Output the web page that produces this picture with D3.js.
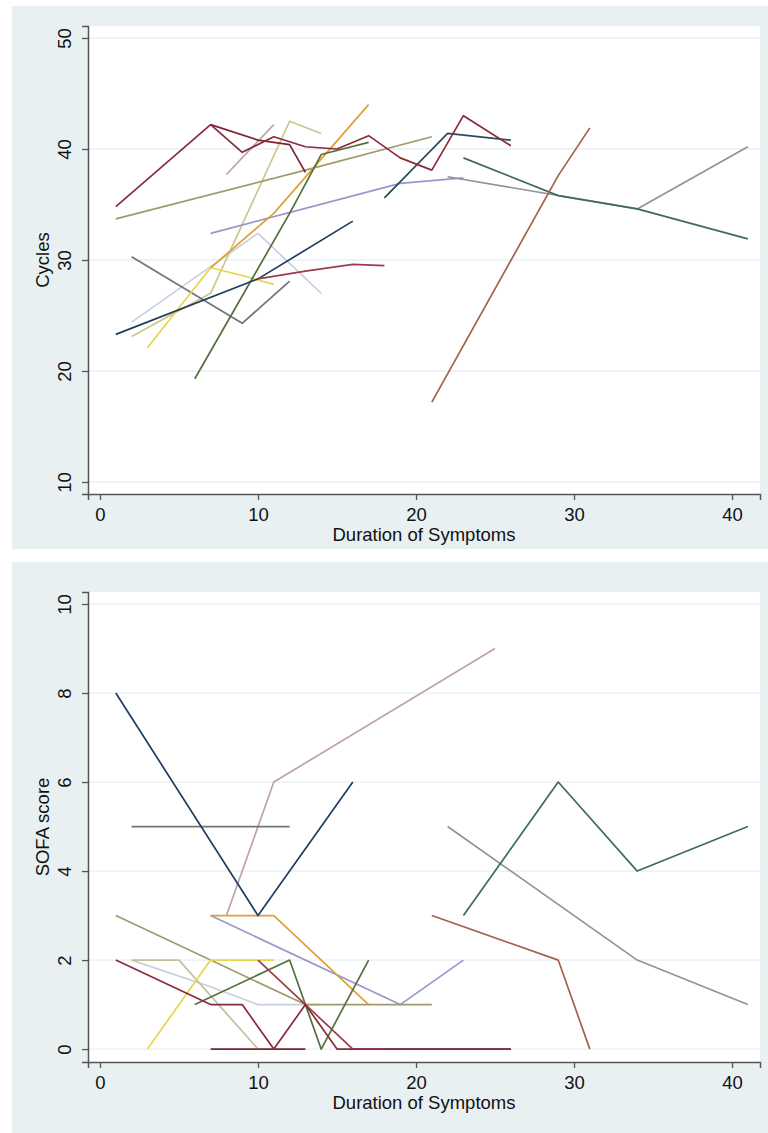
<!DOCTYPE html>
<head>
  <meta charset="utf-8">
  <script src="https://d3js.org/d3.v7.min.js"></script>
  <style>
    body { margin:0; background:#fff; }
    text { font-family: "Liberation Sans", Arial, sans-serif; fill:#111; }
  </style>
</head>
<body>
<script>
  // patient colours (one per trajectory)
  var patientColors = {
    maroonA: "#8a2a3d", maroonB: "#7a2434", maroonC: "#9c3c4c",
    pink: "#bea2ad", olive: "#a09a6b", khaki: "#cdc58e", tan: "#c6bf9c",
    pale: "#c9cfe0", orange: "#dea035", yellow: "#e6d64a", navy: "#1f3d5e",
    gray: "#6b7875", green: "#55703f", lavender: "#9a96cc", navy2: "#2c4a5d",
    teal: "#3f6b5e", gray2: "#8e9497", sienna: "#a3624a"
  };

  var xTicks = [0, 10, 20, 30, 40];
  var cyclesTicks = [10, 20, 30, 40, 50];
  var sofaTicks = [0, 2, 4, 6, 8, 10];

  // Cycles vs duration of symptoms, one list of [day, value] per patient
  var cyclesMaroonA = [[1,34.8],[7,42.2],[9,39.7],[11,41.1],[13,40.2],[15,40.0],[17,41.2],[19,39.2],[21,38.1],[23,43.0],[26,40.3]];
  var cyclesMaroonB = [[7,42.2],[10,40.8],[12,40.4],[13,37.9]];
  var cyclesMaroonC = [[10,28.3],[13,29.0],[16,29.6],[18,29.5]];
  var cyclesPink = [[8,37.7],[11,42.2]];
  var cyclesOlive = [[1,33.7],[13,38.1],[21,41.1]];
  var cyclesKhaki = [[2,23.1],[7,27.0],[12,42.5],[14,41.4]];
  var cyclesPale = [[2,24.4],[7,29.4],[10,32.4],[14,27.0]];
  var cyclesOrange = [[7,29.3],[11,34.2],[17,44.0]];
  var cyclesYellow = [[3,22.1],[7,29.3],[9,28.6],[11,27.8]];
  var cyclesNavy = [[1,23.3],[10,28.3],[16,33.5]];
  var cyclesGray = [[2,30.3],[9,24.3],[12,28.1]];
  var cyclesGreen = [[6,19.3],[12,34.2],[14,39.5],[17,40.6]];
  var cyclesLavender = [[7,32.4],[19,36.9],[23,37.4]];
  var cyclesNavy2 = [[18,35.6],[22,41.4],[26,40.8]];
  var cyclesTeal = [[23,39.2],[29,35.8],[34,34.6],[41,31.9]];
  var cyclesGray2 = [[22,37.5],[34,34.6],[41,40.2]];
  var cyclesSienna = [[21,17.2],[29,37.6],[31,41.9]];

  // SOFA score vs duration of symptoms
  var sofaMaroonA = [[1,2],[7,1],[9,1],[11,0],[13,1],[15,0],[17,0],[19,0],[21,0],[23,0],[26,0]];
  var sofaMaroonB = [[7,0],[10,0],[13,0]];
  var sofaMaroonC = [[10,2],[13,1],[16,0],[18,0]];
  var sofaPink = [[8,3],[11,6],[25,9]];
  var sofaOlive = [[1,3],[13,1],[21,1]];
  var sofaTan = [[2,2],[5,2],[10,0]];
  var sofaPale = [[2,2],[7,1.4],[10,1],[14,1]];
  var sofaOrange = [[7,3],[11,3],[17,1]];
  var sofaYellow = [[3,0],[7,2],[9,2],[11,2]];
  var sofaNavy = [[1,8],[10,3],[16,6]];
  var sofaGray = [[2,5],[9,5],[12,5]];
  var sofaGreen = [[6,1],[12,2],[14,0],[17,2]];
  var sofaLavender = [[7,3],[19,1],[23,2]];
  var sofaNavy2 = [[18,0],[22,0],[26,0]];
  var sofaTeal = [[23,3],[29,6],[34,4],[41,5]];
  var sofaGray2 = [[22,5],[34,2],[41,1]];
  var sofaSienna = [[21,3],[29,2],[31,0]];

  var cyclesSeries = [
    {c:"pale", d:cyclesPale}, {c:"khaki", d:cyclesKhaki}, {c:"pink", d:cyclesPink},
    {c:"lavender", d:cyclesLavender}, {c:"gray2", d:cyclesGray2}, {c:"olive", d:cyclesOlive},
    {c:"gray", d:cyclesGray}, {c:"yellow", d:cyclesYellow}, {c:"orange", d:cyclesOrange},
    {c:"green", d:cyclesGreen}, {c:"navy", d:cyclesNavy}, {c:"maroonC", d:cyclesMaroonC},
    {c:"maroonB", d:cyclesMaroonB}, {c:"navy2", d:cyclesNavy2}, {c:"maroonA", d:cyclesMaroonA},
    {c:"teal", d:cyclesTeal}, {c:"sienna", d:cyclesSienna}
  ];
  var sofaSeries = [
    {c:"pale", d:sofaPale}, {c:"tan", d:sofaTan}, {c:"pink", d:sofaPink},
    {c:"lavender", d:sofaLavender}, {c:"gray2", d:sofaGray2}, {c:"olive", d:sofaOlive},
    {c:"gray", d:sofaGray}, {c:"yellow", d:sofaYellow}, {c:"orange", d:sofaOrange},
    {c:"green", d:sofaGreen}, {c:"navy", d:sofaNavy}, {c:"navy2", d:sofaNavy2},
    {c:"maroonB", d:sofaMaroonB}, {c:"maroonC", d:sofaMaroonC}, {c:"maroonA", d:sofaMaroonA},
    {c:"teal", d:sofaTeal}, {c:"sienna", d:sofaSienna}
  ];

  var width = 768, height = 1133;
  var fontSize = 18.5;
  var svg = d3.select("body").append("svg")
    .attr("width", width).attr("height", height);

  function panel(opt) {
    var g = svg.append("g");
    // graph region
    g.append("rect")
      .attr("x", 12).attr("y", opt.bgTop)
      .attr("width", width - 12).attr("height", opt.bgBottom - opt.bgTop)
      .attr("fill", "#e9f0f2");
    // plot region
    g.append("rect")
      .attr("x", 88).attr("y", opt.top)
      .attr("width", 760 - 88).attr("height", opt.bottom - opt.top)
      .attr("fill", "#ffffff");

    var x = d3.scaleLinear().domain([-0.76, 41.77]).range([88, 760]);
    var y = d3.scaleLinear().domain(opt.yDomain).range([opt.bottom, opt.top]);

    // grid
    g.selectAll(".grid").data(opt.yTicks).enter().append("line")
      .attr("x1", 89).attr("x2", 760)
      .attr("y1", function(d){ return y(d); })
      .attr("y2", function(d){ return y(d); })
      .attr("stroke", "#e8eff2").attr("stroke-width", 1.3);

    var line = d3.line()
      .x(function(d){ return x(d[0]); })
      .y(function(d){ return y(d[1]); });

    g.selectAll(".traj").data(opt.series).enter().append("path")
      .attr("d", function(s){ return line(s.d); })
      .attr("fill", "none")
      .attr("stroke", function(s){ return patientColors[s.c]; })
      .attr("stroke-width", 1.7)
      .attr("stroke-linejoin", "round");

    // x axis
    var xAxis = d3.axisBottom(x).tickValues(xTicks).tickSize(6).tickPadding(8);
    var xg = g.append("g").attr("transform", "translate(0," + opt.bottom + ")").call(xAxis);
    xg.select(".domain").attr("stroke", "#555").attr("stroke-width", 1.5);
    xg.selectAll(".tick line").attr("stroke", "#555").attr("stroke-width", 1.3);
    xg.selectAll(".tick text").attr("font-size", fontSize).attr("fill", "#111")
      .attr("font-family", "Liberation Sans, Arial, sans-serif");

    // y axis
    var yAxis = d3.axisLeft(y).tickValues(opt.yTicks).tickSize(6).tickFormat(d3.format("d"));
    var yg = g.append("g").attr("transform", "translate(88,0)").call(yAxis);
    yg.select(".domain").attr("stroke", "#555").attr("stroke-width", 1.5);
    yg.selectAll(".tick line").attr("stroke", "#555").attr("stroke-width", 1.3);
    yg.selectAll(".tick text")
      .attr("font-size", fontSize).attr("fill", "#111")
      .attr("font-family", "Liberation Sans, Arial, sans-serif")
      .attr("x", null)
      .attr("text-anchor", "middle")
      .attr("transform", "translate(-23,0) rotate(-90)")
      .attr("y", 0).attr("dy", "0.35em");

    g.append("text")
      .attr("x", 424).attr("y", opt.bottom + 47)
      .attr("text-anchor", "middle").attr("font-size", fontSize)
      .text("Duration of Symptoms");

    g.append("text")
      .attr("transform", "translate(49," + ((opt.top + opt.bottom) / 2) + ") rotate(-90)")
      .attr("text-anchor", "middle").attr("font-size", fontSize)
      .text(opt.yTitle);
  }

  panel({ bgTop: 6, bgBottom: 549, top: 26, bottom: 494,
          yDomain: [8.92, 51.08], yTicks: cyclesTicks,
          series: cyclesSeries, yTitle: "Cycles" });
  panel({ bgTop: 562, bgBottom: 1133, top: 592, bottom: 1062,
          yDomain: [-0.29, 10.27], yTicks: sofaTicks,
          series: sofaSeries, yTitle: "SOFA score" });
</script>
</body>
